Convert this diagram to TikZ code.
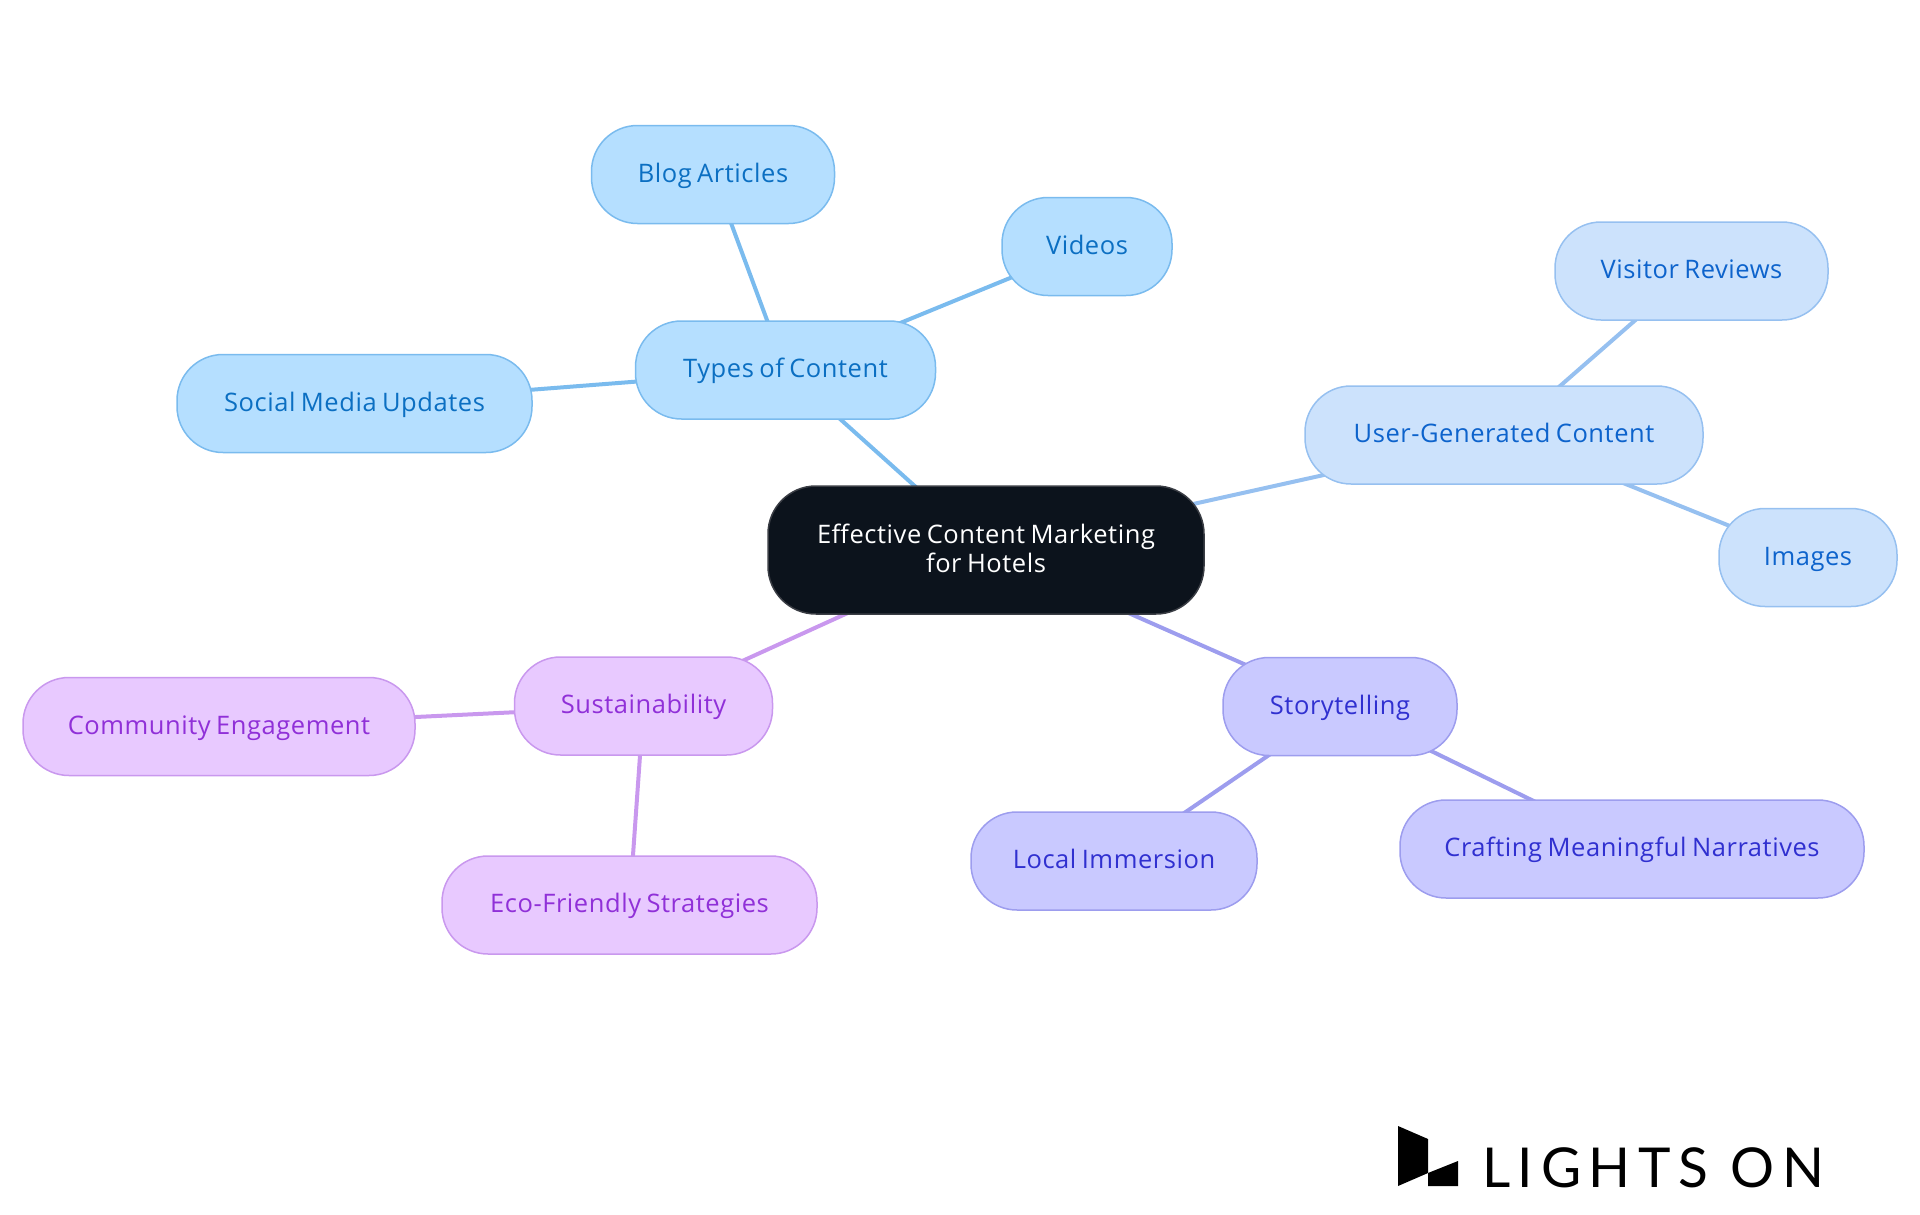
\documentclass[tikz,border=0pt]{standalone}
\usepackage{fontspec}
\setmainfont[LetterSpace=2.2,WordSpace=0.75]{Open Sans}
\newfontfamily\logofont[LetterSpace=14]{Lato}
\usetikzlibrary{backgrounds}
\definecolor{rootfill}{HTML}{0C131C}
\definecolor{rootline}{HTML}{3A3D44}
\definecolor{typesfill}{HTML}{B5DFFF}
\definecolor{typesline}{HTML}{7ABBEE}
\definecolor{typestext}{HTML}{0B6FC2}
\definecolor{ugcfill}{HTML}{CCE2FC}
\definecolor{ugcline}{HTML}{96C0F0}
\definecolor{ugctext}{HTML}{0D63CC}
\definecolor{storyfill}{HTML}{C9C9FF}
\definecolor{storyline}{HTML}{9D9DEE}
\definecolor{storytext}{HTML}{3030D0}
\definecolor{carefill}{HTML}{E8C9FF}
\definecolor{careline}{HTML}{C998EE}
\definecolor{caretext}{HTML}{9030D8}
\tikzset{
  pill/.style={rounded corners=46pt,line width=1.5pt,outer sep=0,inner sep=0,
    minimum height=98pt,font=\fontsize{25.5}{29.4}\selectfont,
    text height=19.5pt,text depth=4.5pt},
  types/.style={pill,draw=typesline,fill=typesfill,text=typestext},
  ugc/.style={pill,draw=ugcline,fill=ugcfill,text=ugctext},
  story/.style={pill,draw=storyline,fill=storyfill,text=storytext},
  care/.style={pill,draw=careline,fill=carefill,text=caretext},
  link/.style={line width=4pt}
}

\begin{document}
\begin{tikzpicture}[x=1pt,y=-1pt]
    \useasboundingbox (0,0) rectangle (1920,1215);
    \node[rounded corners=48pt,line width=1.5pt,draw=rootline,fill=rootfill,text=white,
      minimum width=436pt,minimum height=128pt,inner sep=0,outer sep=0,align=center,
      font=\fontsize{25.5}{29.4}\selectfont] (root) at (986,550)
      {Effective Content Marketing\\for Hotels\rule[-4pt]{0pt}{0pt}};
    % upper left branch
    \node[types,minimum width=300pt] (types) at (785.5,370) {Types of Content};
    \node[types,minimum width=243pt] (blog) at (713,174.5) {Blog Articles};
    \node[types,minimum width=170pt] (videos) at (1087,246.5) {Videos};
    \node[types,minimum width=355pt] (social) at (354.5,403.5) {Social Media Updates};
    % upper right branch
    \node[ugc,minimum width=398pt] (ugc) at (1504,435) {User-Generated Content};
    \node[ugc,minimum width=273pt] (reviews) at (1691.5,271) {Visitor Reviews};
    \node[ugc,minimum width=178pt] (images) at (1808,557.5) {Images};
    % lower right branch
    \node[story,minimum width=234pt] (story) at (1340,706.5) {Storytelling};
    \node[story,minimum width=286pt] (local) at (1114,861) {Local Immersion};
    \node[story,minimum width=464pt] (narr) at (1632,849) {Crafting Meaningful Narratives};
    % lower left branch
    \node[care,minimum width=258pt] (sustain) at (643.5,706) {Sustainability};
    \node[care,minimum width=392pt] (community) at (219,726.5) {Community Engagement};
    \node[care,minimum width=375pt] (eco) at (629.5,905) {Eco-Friendly Strategies};
    \begin{scope}[on background layer]
      \foreach\kid in {root,blog,videos,social}{
       \draw[link,typesline] (types.center) -- (\kid.center);}
      \foreach\kid in {root,reviews,images}{
       \draw[link,ugcline] (ugc.center) -- (\kid.center);}
      \foreach\kid in {root,local,narr}{
       \draw[link,storyline] (story.center) -- (\kid.center);}
      \foreach\kid in {root,community,eco}{
       \draw[link,careline] (sustain.center) -- (\kid.center);}
    \end{scope}
    % logo
    \fill[black] (1398,1126) -- (1428,1139) -- (1428,1173) -- (1398,1186) -- cycle;
    \fill[black] (1428,1173) -- (1458,1161) -- (1458,1186) -- (1428,1186) -- cycle;
    \node[anchor=base west,inner sep=0,outer sep=0,font=\fontsize{55}{60}\logofont] (logo) at (1482,1187) {LIGHTS ON};
  \end{tikzpicture}
\end{document}
